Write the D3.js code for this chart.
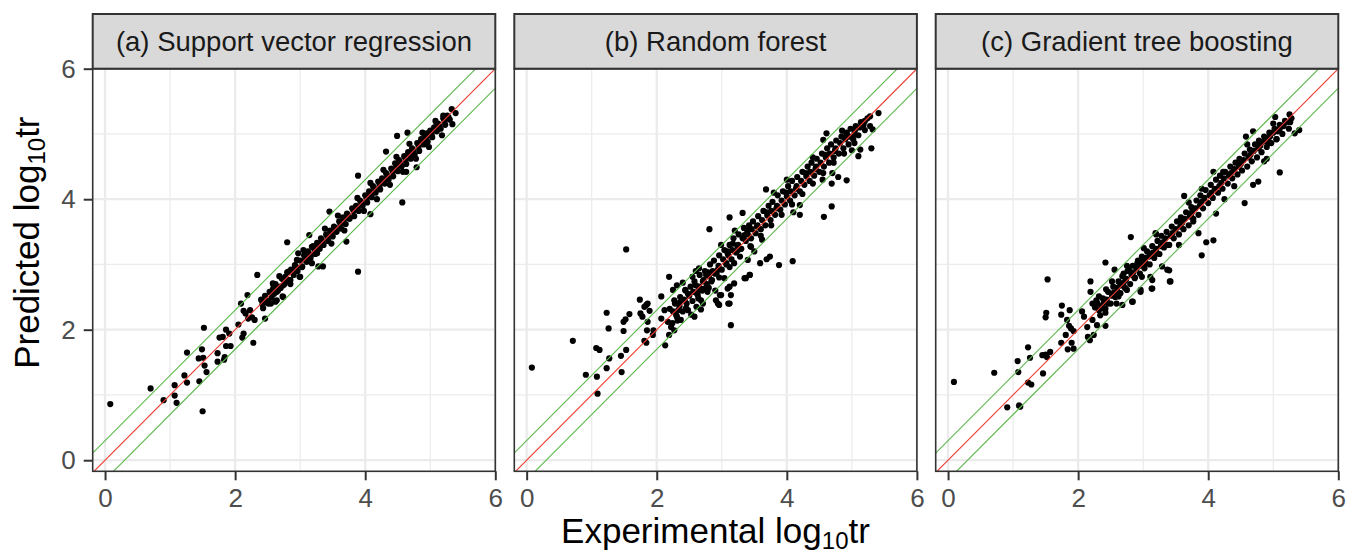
<!DOCTYPE html>
<html>
<head>
<meta charset="utf-8">
<script src="https://cdn.jsdelivr.net/npm/d3@7"></script>
<style>
  body { margin: 0; background: #fff; }
  text { font-family: "Liberation Sans", Arial, Helvetica, sans-serif; }
</style>
</head>
<body>
<div id="vis"></div>
<script>
// data (experimental vs predicted log10 tr)

const PANEL_TITLES = ["(a) Support vector regression", "(b) Random forest", "(c) Gradient tree boosting"];
const MAJOR_TICKS = [0, 2, 4, 6];
const MINOR_TICKS = [1, 3, 5];
const REF_OFFSETS = [0, 0.3, -0.3];   // y = x, and a factor of 2 either side

const SVR_POINTS = [
  [0.08,0.86],[0.70,1.10],[0.90,0.92],[1.07,0.99],[1.07,1.15],[1.10,0.88],[1.50,0.75],
  [1.22,1.30],[1.26,1.19],[1.26,1.65],[1.45,1.21],[1.49,1.70],[1.44,1.56],[1.51,1.57],
  [1.53,1.45],[1.56,1.35],[1.52,2.03],[1.73,1.64],[1.73,1.51],[1.84,1.58],[1.83,1.54],
  [1.76,1.88],[1.81,1.89],[1.86,2.00],[1.91,1.94],[1.86,1.75],[1.93,1.75],[2.05,2.08],
  [2.13,1.94],[2.11,1.88],[2.28,1.80],[2.09,2.40],[2.19,2.53],[2.13,2.29],[2.16,2.25],
  [2.23,2.30],[2.26,2.19],[2.30,2.15],[2.20,2.17],[2.34,2.84],[2.41,2.45],[2.46,2.17],
  [2.42,2.39],[2.51,2.40],[2.54,2.57],[2.59,2.68],[2.62,2.43],[2.64,2.58],[2.73,2.51],
  [2.74,2.68],[2.69,2.66],[2.77,2.81],[2.82,2.89],[2.85,2.76],[2.80,3.34],[2.92,2.99],
  [2.95,3.07],[3.00,2.81],[3.03,2.97],[3.08,3.07],[2.97,3.17],[3.15,3.14],[3.18,3.27],
  [3.26,3.17],[3.28,2.97],[2.58,2.71],[2.64,2.45],[2.74,2.50],[2.99,2.81],[3.35,2.97],
  [3.14,3.45],[3.89,2.89],[3.71,3.35],[3.45,3.81],[3.89,4.36],[4.08,3.77],[4.57,3.95],
  [4.32,4.73],[4.49,4.97],[4.65,5.02],[4.79,4.49],[4.63,4.42],[5.34,5.15],[5.39,5.32],
  [5.33,5.38],[5.20,5.28],[5.10,5.16],[4.94,5.01],
  [2.40,2.46],[2.43,2.33],[2.46,2.52],[2.50,2.44],[2.53,2.58],[2.56,2.49],
  [2.60,2.55],[2.62,2.70],[2.66,2.60],[2.70,2.64],[2.72,2.78],[2.76,2.70],
  [2.80,2.88],[2.83,2.76],[2.86,2.92],[2.90,2.84],[2.92,2.98],[2.96,2.90],
  [3.00,3.06],[3.03,2.96],[3.06,3.14],[3.10,3.04],[3.12,3.20],[3.16,3.10],
  [3.20,3.28],[3.23,3.16],[3.26,3.33],[3.30,3.24],[3.32,3.40],[3.36,3.30],
  [3.40,3.46],[3.43,3.36],[3.46,3.52],[3.50,3.43],[3.52,3.58],[3.56,3.50],
  [3.60,3.66],[3.63,3.55],[3.66,3.72],[3.70,3.62],[3.72,3.78],[3.76,3.70],
  [3.80,3.86],[3.83,3.74],[3.86,3.90],[3.90,3.82],[3.92,3.98],[3.96,3.90],
  [4.00,4.06],[4.03,3.95],[4.06,4.12],[4.10,4.03],[4.12,4.20],[4.16,4.10],
  [4.20,4.27],[4.23,4.15],[4.26,4.32],[4.30,4.24],[4.32,4.40],[4.36,4.30],
  [4.40,4.47],[4.43,4.35],[4.46,4.55],[4.50,4.43],[4.52,4.60],[4.56,4.50],
  [4.60,4.66],[4.63,4.54],[4.66,4.72],[4.70,4.62],[4.72,4.78],[4.76,4.68],
  [4.80,4.86],[4.83,4.74],[4.86,4.92],[4.90,4.84],[4.92,4.98],[4.96,4.88],
  [5.00,5.05],[5.03,4.95],[5.06,5.10],[5.10,5.04],[5.12,5.16],[5.16,5.08],
  [5.20,5.24],[5.23,5.14],[5.26,5.28],[5.30,5.22],
  [2.55,2.40],[2.68,2.82],[2.85,2.70],[3.05,3.22],[3.18,3.02],[3.38,3.55],[3.48,3.32],
  [3.58,3.75],[3.68,3.52],[3.88,4.02],[3.98,3.82],[4.08,4.25],[4.18,4.00],[4.28,4.45],
  [4.38,4.22],[4.48,4.65],[4.58,4.42],[4.68,4.85],[4.78,4.62],[4.88,5.02],[4.98,4.80],
  [5.08,5.20],[5.18,4.98],
  [2.45,2.42],[2.58,2.62],[2.64,2.66],[2.78,2.74],[2.88,2.90],[2.94,2.96],[3.08,3.10],
  [3.14,3.16],[3.22,3.22],[3.28,3.30],[3.34,3.36],[3.42,3.42],[3.48,3.50],[3.54,3.56],
  [3.62,3.61],[3.68,3.70],[3.74,3.75],[3.82,3.82],[3.88,3.86],[3.94,3.95],[4.02,4.01],
  [4.08,4.07],[4.14,4.16],[4.22,4.21],[4.28,4.28],[4.34,4.36],[4.42,4.42],[4.48,4.50],
  [4.54,4.55],[4.62,4.60],[4.68,4.68],[4.74,4.74],[4.82,4.80],[4.88,4.89],[4.94,4.94],
  [5.02,5.00],[5.08,5.08],[5.14,5.12],[5.22,5.19],[5.28,5.26]
];

const RF_POINTS = [
  [0.08,1.42],[0.71,1.83],[0.91,1.31],[1.08,1.28],[1.09,1.02],[1.07,1.72],[1.12,1.69],
  [1.23,1.41],[1.27,1.56],[1.45,1.60],[1.46,1.35],[1.53,1.69],[1.53,3.23],[1.23,2.26],
  [1.26,2.02],[1.49,2.12],[1.52,2.16],[1.58,2.24],[1.49,1.98],[1.74,2.46],[1.75,2.25],
  [1.78,2.20],[1.81,2.35],[1.84,2.38],[1.86,2.40],[1.89,2.29],[1.86,2.12],[1.85,1.99],
  [1.81,1.83],[1.84,1.80],[1.94,1.92],[1.95,1.99],[2.07,2.51],[2.07,2.17],[2.12,2.30],
  [2.13,1.76],[2.17,2.12],[2.19,2.81],[2.19,1.92],[2.22,2.04],[2.25,2.61],[2.27,2.45],
  [2.27,1.99],[2.31,2.68],[2.31,2.20],[2.35,2.41],[2.37,2.15],[2.40,2.72],[2.43,2.45],
  [2.44,2.61],[2.45,2.33],[2.53,2.23],[2.55,2.81],[2.58,2.20],[2.60,2.68],[2.63,2.53],
  [2.65,2.94],[2.68,2.45],[2.68,2.31],[2.71,2.74],[2.73,2.63],[2.76,2.84],[2.78,2.58],
  [2.81,3.54],[2.84,2.74],[2.89,2.86],[2.91,2.45],[2.96,2.38],[2.99,2.53],[2.99,3.30],
  [3.04,2.79],[3.09,2.63],[3.12,2.40],[3.14,2.07],[3.14,2.53],[3.19,2.71],[3.07,3.02],
  [3.09,3.17],[3.17,3.32],[3.19,3.02],[3.25,3.22],[3.35,3.45],[3.37,2.79],[3.43,2.84],
  [3.40,3.07],[3.45,3.27],[3.12,3.72],[3.32,3.79],[3.68,4.15],[3.88,2.99],[4.09,3.05],
  [3.74,3.12],[3.69,3.08],[3.59,3.02],[3.43,2.84],[3.35,2.79],[3.12,2.66],[2.97,2.53],
  [3.10,2.40],[2.94,2.40],[2.71,2.40],[2.61,2.35],[4.57,3.73],[4.69,3.89],[4.20,3.76],
  [4.20,3.91],[4.69,4.24],[4.79,4.34],[4.92,4.29],[5.10,4.66],[5.13,4.76],[5.30,4.78],
  [5.32,5.07],[5.41,5.32],[5.28,5.27],[5.17,5.14],[4.61,5.01],[4.92,5.01],[4.56,4.91],
  [2.20,2.32],[2.24,2.10],[2.28,2.40],[2.30,2.22],[2.36,2.50],[2.40,2.28],[2.44,2.60],[2.46,2.40],
  [2.52,2.66],[2.55,2.44],[2.58,2.74],[2.62,2.55],[2.66,2.84],[2.70,2.60],[2.74,2.90],[2.77,2.70],
  [2.82,3.00],[2.85,2.76],[2.88,3.06],[2.92,2.86],[2.96,3.14],[3.00,2.92],[3.04,3.22],[3.07,3.00],
  [3.12,3.30],[3.15,3.08],[3.18,3.40],[3.22,3.18],[3.26,3.46],[3.30,3.24],[3.34,3.56],[3.37,3.36],
  [3.42,3.60],[3.45,3.40],[3.48,3.66],[3.52,3.48],[3.56,3.74],[3.60,3.54],[3.64,3.82],[3.67,3.60],
  [3.72,3.90],[3.75,3.68],[3.78,3.96],[3.82,3.76],[3.86,4.06],[3.90,3.84],[3.94,4.12],[3.97,3.92],
  [4.02,4.20],[4.05,3.98],[4.08,4.28],[4.12,4.06],[4.16,4.34],[4.20,4.12],[4.24,4.42],[4.27,4.22],
  [4.32,4.50],[4.35,4.28],[4.38,4.56],[4.42,4.36],[4.46,4.62],[4.50,4.42],[4.54,4.70],[4.57,4.50],
  [4.62,4.78],[4.65,4.56],[4.68,4.84],[4.72,4.64],[4.76,4.90],[4.80,4.70],[4.84,4.96],[4.87,4.78],
  [4.92,5.02],[4.95,4.84],[4.98,5.08],[5.02,4.92],[5.06,5.12],[5.10,4.98],[5.14,5.18],[5.20,5.06],
  [5.24,5.24],[5.28,5.12],
  [2.35,2.36],[2.50,2.52],[2.65,2.66],[2.80,2.82],[2.95,2.98],[3.10,3.14],[3.25,3.30],[3.40,3.46],
  [3.55,3.60],[3.70,3.75],[3.85,3.90],[4.00,4.04],[4.15,4.20],[4.30,4.35],[4.45,4.50],[4.60,4.64],
  [4.75,4.78],[4.90,4.92],[5.05,5.06],[5.20,5.20],
  [3.20,3.52],[3.50,3.20],[3.80,4.10],[4.10,3.80],[4.40,4.64],[4.70,4.40],[2.90,2.60],[2.60,2.90],
  [3.62,3.38],[4.00,4.30],[4.55,4.30],[4.85,5.05],[5.00,4.75],
  [2.25,2.28],[2.33,2.30],[2.42,2.46],[2.48,2.55],[2.56,2.58],[2.64,2.60],[2.72,2.76],[2.79,2.88],
  [2.86,2.90],[2.94,2.92],[3.02,3.08],[3.09,3.20],[3.16,3.22],[3.24,3.28],[3.32,3.40],[3.39,3.52],
  [3.46,3.54],[3.54,3.58],[3.62,3.68],[3.69,3.80],[3.76,3.82],[3.84,3.86],[3.92,3.98],[3.99,4.10],
  [4.06,4.12],[4.14,4.16],[4.22,4.28],[4.29,4.40],[4.36,4.42],[4.44,4.46],[4.52,4.56],[4.59,4.68],
  [4.66,4.70],[4.74,4.74],[4.82,4.86],[4.89,4.94],[4.96,4.96],[5.04,5.00],[5.12,5.10],[5.18,5.14],
  [2.32,2.14],[2.48,2.30],[2.64,2.48],[2.80,2.64],[2.96,2.80],[3.12,2.96],[3.28,3.12],[3.44,3.28],
  [3.60,3.44],[3.76,3.60],[3.92,3.76],[4.08,3.92],[4.24,4.08],[4.40,4.24],[4.56,4.40],[4.72,4.56],
  [4.88,4.70],[5.04,4.86]
];

const GBT_POINTS = [
  [0.09,1.20],[0.71,1.34],[0.91,0.81],[1.09,0.84],[1.11,0.82],[1.07,1.52],[1.08,1.35],
  [1.23,1.73],[1.23,1.19],[1.28,1.16],[1.26,1.57],[1.46,1.33],[1.45,1.61],[1.50,1.62],
  [1.52,1.58],[1.57,1.66],[1.53,2.77],[1.50,2.19],[1.51,2.26],[1.74,1.80],[1.75,2.37],
  [1.74,2.23],[1.81,1.92],[1.84,1.70],[1.87,2.30],[1.83,2.15],[1.86,2.06],[1.89,2.02],
  [1.90,1.80],[1.93,1.71],[1.93,1.98],[2.06,2.28],[2.09,2.20],[2.14,2.04],[2.15,1.89],
  [2.18,1.84],[2.19,2.74],[2.19,2.58],[2.22,2.40],[2.22,2.15],[2.26,2.34],[2.28,2.45],
  [2.29,2.07],[2.24,1.92],[2.32,2.30],[2.32,2.51],[2.39,2.33],[2.43,2.62],[2.42,2.06],
  [2.42,3.03],[2.46,2.40],[2.42,2.26],[2.52,2.74],[2.56,2.92],[2.60,2.58],[2.62,2.51],
  [2.65,2.68],[2.68,2.38],[2.70,2.86],[2.73,2.76],[2.75,2.61],[2.78,2.92],[2.83,2.43],
  [2.81,3.42],[2.87,2.79],[2.91,3.02],[2.96,2.61],[2.98,2.81],[3.01,3.25],[3.04,3.02],
  [3.09,3.12],[3.14,2.63],[3.14,2.76],[3.11,2.81],[3.19,3.48],[3.22,3.17],[3.29,2.97],
  [3.40,2.91],[3.42,2.74],[3.37,3.30],[3.41,2.74],[3.13,2.63],[2.96,2.58],[2.84,2.43],
  [2.59,2.40],[3.37,2.92],[3.90,3.14],[3.97,3.34],[4.08,3.37],[3.85,3.48],[4.12,3.78],
  [3.63,4.05],[3.74,3.73],[3.77,3.66],[4.56,3.94],[4.69,4.22],[4.77,4.27],[4.86,4.58],
  [5.10,4.41],[5.03,5.26],[5.25,5.30],[5.33,5.01],[5.40,5.06],[5.05,4.92],[4.92,4.86],
  [4.58,4.96],[4.69,5.04],[4.23,4.42],[4.08,4.42],
  [2.30,2.40],[2.34,2.22],[2.38,2.48],[2.42,2.32],[2.46,2.58],[2.50,2.40],[2.54,2.66],[2.57,2.50],
  [2.62,2.74],[2.65,2.56],[2.68,2.82],[2.72,2.64],[2.76,2.90],[2.80,2.70],[2.84,2.98],[2.87,2.80],
  [2.92,3.06],[2.95,2.86],[2.98,3.12],[3.02,2.94],[3.06,3.20],[3.10,3.00],[3.14,3.28],[3.17,3.10],
  [3.22,3.36],[3.25,3.16],[3.28,3.44],[3.32,3.26],[3.36,3.50],[3.40,3.30],[3.44,3.58],[3.47,3.40],
  [3.52,3.66],[3.55,3.46],[3.58,3.72],[3.62,3.54],[3.66,3.80],[3.70,3.60],[3.74,3.88],[3.77,3.70],
  [3.82,3.98],[3.85,3.76],[3.88,4.06],[3.92,3.86],[3.96,4.14],[4.00,3.94],[4.04,4.22],[4.07,4.02],
  [4.12,4.30],[4.15,4.10],[4.18,4.36],[4.22,4.16],[4.26,4.42],[4.30,4.24],[4.34,4.50],[4.37,4.32],
  [4.42,4.56],[4.45,4.38],[4.48,4.62],[4.52,4.44],[4.56,4.70],[4.60,4.50],[4.64,4.76],[4.67,4.58],
  [4.72,4.84],[4.75,4.64],[4.78,4.90],[4.82,4.72],[4.86,4.96],[4.90,4.80],[4.94,5.02],[4.97,4.86],
  [5.02,5.08],[5.05,4.92],[5.10,5.14],[5.14,5.00],[5.18,5.20],[5.24,5.08],[5.28,5.24],
  [2.40,2.42],[2.55,2.57],[2.70,2.72],[2.85,2.88],[3.00,3.04],[3.15,3.18],[3.30,3.34],[3.45,3.48],
  [3.60,3.64],[3.75,3.80],[3.90,3.96],[4.05,4.10],[4.20,4.25],[4.35,4.40],[4.50,4.54],[4.65,4.68],
  [4.80,4.82],[4.95,4.96],[5.10,5.08],[5.22,5.18],
  [3.20,3.46],[3.55,3.30],[3.90,4.16],[4.25,4.00],[4.60,4.84],[4.90,4.62],[3.70,3.95],[4.40,4.20],
  [5.00,5.16],[2.75,2.98],
  [2.36,2.36],[2.44,2.46],[2.52,2.52],[2.60,2.64],[2.67,2.68],[2.74,2.78],[2.82,2.84],[2.90,2.94],
  [2.97,2.98],[3.04,3.10],[3.12,3.14],[3.20,3.24],[3.27,3.28],[3.34,3.40],[3.42,3.44],[3.50,3.54],
  [3.57,3.58],[3.64,3.70],[3.72,3.74],[3.80,3.86],[3.87,3.90],[3.94,4.02],[4.02,4.06],[4.10,4.16],
  [4.17,4.20],[4.24,4.32],[4.32,4.36],[4.40,4.46],[4.47,4.50],[4.54,4.60],[4.62,4.64],[4.70,4.74],
  [4.77,4.78],[4.84,4.88],[4.92,4.92],[5.00,5.02],[5.07,5.04],[5.16,5.12],[5.26,5.18]
];

const PANEL_DATA = [SVR_POINTS, RF_POINTS, GBT_POINTS];

// frame
const FRAME_WIDTH = 1357;
const FRAME_HEIGHT = 555;
const PANEL_LEFT = [92.7, 514.3, 935.7];
const PANEL_W = 402.6;
const STRIP_TOP = 14;
const PLOT_TOP = 68.7;
const PLOT_BOTTOM = 471.3;
const PLOT_H = PLOT_BOTTOM - PLOT_TOP;

const FONT = '"Liberation Sans", Arial, Helvetica, sans-serif';

const svg = d3.select("#vis")
  .append("svg")
  .attr("width", FRAME_WIDTH)
  .attr("height", FRAME_HEIGHT);

// same scales for all three facets
const X_SCALE = d3.scaleLinear().domain([-0.19, 6]).range([0, PANEL_W]);
const Y_SCALE = d3.scaleLinear().domain([-0.17, 6]).range([PLOT_H, 0]);

PANEL_TITLES.forEach((title, i) => {
  const g = svg.append("g")
    .attr("transform", "translate(" + PANEL_LEFT[i] + "," + PLOT_TOP + ")");

  // clip so the reference lines stop at the border
  g.append("clipPath").attr("id", "clip" + i)
    .append("rect").attr("width", PANEL_W).attr("height", PLOT_H);

  // grid
  g.selectAll(".minx").data(MINOR_TICKS).join("line")
    .attr("x1", d => X_SCALE(d)).attr("x2", d => X_SCALE(d))
    .attr("y1", 0).attr("y2", PLOT_H)
    .attr("stroke", "#ebebeb").attr("stroke-width", 1.2);
  g.selectAll(".miny").data(MINOR_TICKS).join("line")
    .attr("y1", d => Y_SCALE(d)).attr("y2", d => Y_SCALE(d))
    .attr("x1", 0).attr("x2", PANEL_W)
    .attr("stroke", "#ebebeb").attr("stroke-width", 1.2);
  g.selectAll(".majx").data(MAJOR_TICKS).join("line")
    .attr("x1", d => X_SCALE(d)).attr("x2", d => X_SCALE(d))
    .attr("y1", 0).attr("y2", PLOT_H)
    .attr("stroke", "#ebebeb").attr("stroke-width", 2.3);
  g.selectAll(".majy").data(MAJOR_TICKS).join("line")
    .attr("y1", d => Y_SCALE(d)).attr("y2", d => Y_SCALE(d))
    .attr("x1", 0).attr("x2", PANEL_W)
    .attr("stroke", "#ebebeb").attr("stroke-width", 2.3);

  const inner = g.append("g").attr("clip-path", "url(#clip" + i + ")");

  // points
  inner.selectAll("circle").data(PANEL_DATA[i]).join("circle")
    .attr("cx", d => X_SCALE(d[0]))
    .attr("cy", d => Y_SCALE(d[1]))
    .attr("r", 3.1)
    .attr("fill", "#000");

  // y = x and +/- 0.3 lines, drawn over the points
  inner.selectAll(".ref").data(REF_OFFSETS).join("line")
    .attr("x1", X_SCALE(-1)).attr("y1", d => Y_SCALE(-1 + d))
    .attr("x2", X_SCALE(7)).attr("y2", d => Y_SCALE(7 + d))
    .attr("stroke", d => d === 0 ? "#ee3b2f" : "#5cb84c")
    .attr("stroke-width", 1.1);

  // border
  g.append("rect")
    .attr("width", PANEL_W).attr("height", PLOT_H)
    .attr("fill", "none").attr("stroke", "#333").attr("stroke-width", 1.6);

  // x axis
  const xAxis = g.append("g")
    .attr("transform", "translate(0," + PLOT_H + ")")
    .call(d3.axisBottom(X_SCALE).tickValues(MAJOR_TICKS).tickSize(9).tickPadding(8).tickFormat(d3.format("d")));
  xAxis.select(".domain").remove();
  xAxis.selectAll(".tick line").attr("stroke", "#333").attr("stroke-width", 2);
  xAxis.selectAll(".tick text").attr("fill", "#4d4d4d").attr("font-size", 26).attr("font-family", FONT);

  // y axis only on first facet
  if (i === 0) {
    const yAxis = g.append("g")
      .call(d3.axisLeft(Y_SCALE).tickValues(MAJOR_TICKS).tickSize(9).tickPadding(8).tickFormat(d3.format("d")));
    yAxis.select(".domain").remove();
    yAxis.selectAll(".tick line").attr("stroke", "#333").attr("stroke-width", 2);
    yAxis.selectAll(".tick text").attr("fill", "#4d4d4d").attr("font-size", 26).attr("font-family", FONT);
  }

  // strip
  const strip = svg.append("g")
    .attr("transform", "translate(" + PANEL_LEFT[i] + "," + STRIP_TOP + ")");
  strip.append("rect")
    .attr("width", PANEL_W).attr("height", PLOT_TOP - STRIP_TOP)
    .attr("fill", "#d9d9d9").attr("stroke", "#333").attr("stroke-width", 2);
  strip.append("text")
    .attr("x", PANEL_W / 2).attr("y", (PLOT_TOP - STRIP_TOP) / 2)
    .attr("dy", "0.36em")
    .attr("text-anchor", "middle")
    .attr("font-size", 27.5)
    .attr("fill", "#1a1a1a")
    .text(title);
});

// axis titles
const xTitle = svg.append("text")
  .attr("x", (PANEL_LEFT[0] + PANEL_LEFT[2] + PANEL_W) / 2)
  .attr("y", 543)
  .attr("text-anchor", "middle")
  .attr("font-size", 35)
  .attr("fill", "#000");
xTitle.append("tspan").text("Experimental log");
xTitle.append("tspan").attr("font-size", 24).attr("dy", 6).text("10");
xTitle.append("tspan").attr("dy", -6).text("tr");

const yTitle = svg.append("text")
  .attr("transform", "translate(39," + ((STRIP_TOP + PLOT_BOTTOM) / 2) + ") rotate(-90)")
  .attr("text-anchor", "middle")
  .attr("font-size", 35)
  .attr("fill", "#000");
yTitle.append("tspan").text("Predicted log");
yTitle.append("tspan").attr("font-size", 24).attr("dy", 6).text("10");
yTitle.append("tspan").attr("dy", -6).text("tr");
</script>
</body>
</html>
